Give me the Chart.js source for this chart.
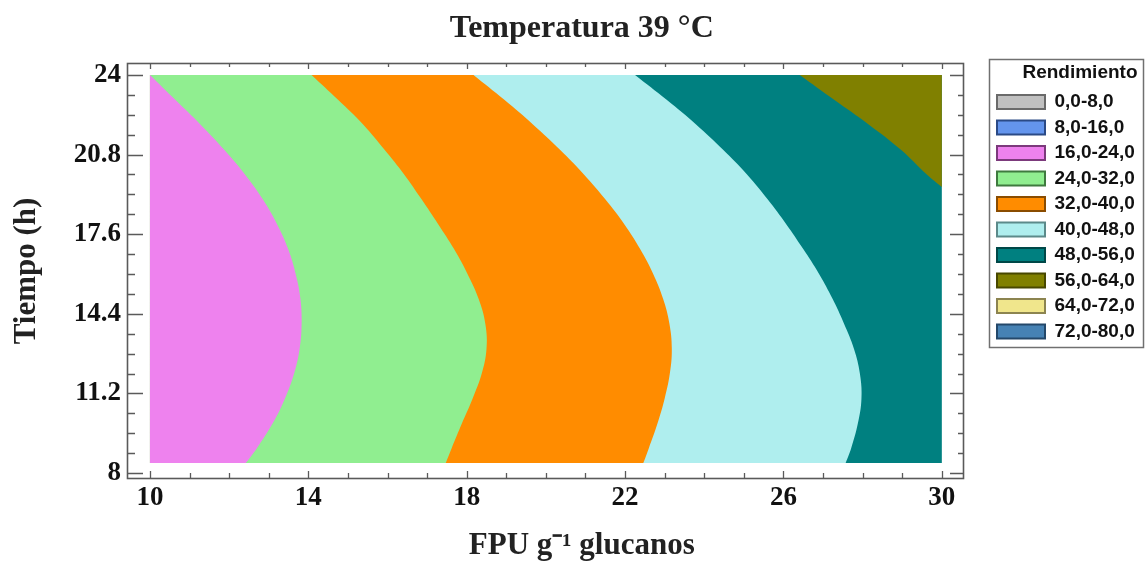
<!DOCTYPE html>
<html>
<head>
<meta charset="utf-8">
<script src="https://cdn.jsdelivr.net/npm/chart.js@4.4.0/dist/chart.umd.min.js"></script>
<style>
  html, body { margin: 0; padding: 0; background: #ffffff; }
  canvas { display: block; }
</style>
</head>
<body>
<canvas id="c" width="1148" height="563"></canvas>
<script>
// ---------- data ----------
// Time (h) at which each contour boundary was read
const TIME_H = [8.4, 9, 10, 11, 12, 13, 14, 15, 16, 17, 18, 19, 20, 21, 22, 23, 24];
// FPU position of each contour boundary (yield level) at those times
const FPU_24 = [12.42, 12.70, 13.10, 13.41, 13.64, 13.78, 13.83, 13.80, 13.68, 13.49, 13.21, 12.85, 12.40, 11.87, 11.28, 10.64, 10.00];
const FPU_32 = [17.47, 17.62, 17.88, 18.15, 18.38, 18.50, 18.47, 18.30, 18.02, 17.68, 17.28, 16.86, 16.42, 15.92, 15.39, 14.75, 14.08];
const FPU_40 = [22.46, 22.60, 22.82, 23.00, 23.13, 23.18, 23.12, 22.96, 22.71, 22.38, 21.98, 21.50, 20.96, 20.35, 19.68, 18.95, 18.17];
const FPU_48 = [27.57, 27.71, 27.88, 27.97, 27.93, 27.78, 27.53, 27.24, 26.90, 26.50, 26.07, 25.60, 25.08, 24.47, 23.80, 23.05, 22.25];
// the 56 boundary only crosses the upper right corner
const TIME_56 = [19.5, 20, 21, 22, 23, 24];
const FPU_56 = [30.00, 29.62, 28.96, 28.16, 27.28, 26.41];

// domain of the response surface
const FPU_RANGE = [10, 30];
const TIME_RANGE = [8.4, 24];

// axes
const X_TICKS = [10, 14, 18, 22, 26, 30];
const X_MINOR_STEP = 1;
const Y_TICKS = [8, 11.2, 14.4, 17.6, 20.8, 24];
const Y_TICK_LABELS = ['8', '11.2', '14.4', '17.6', '20.8', '24'];
const Y_MINOR_STEP = 0.8;

// legend
const LEGEND_LABELS = ['0,0-8,0', '8,0-16,0', '16,0-24,0', '24,0-32,0', '32,0-40,0',
                       '40,0-48,0', '48,0-56,0', '56,0-64,0', '64,0-72,0', '72,0-80,0'];
const LEGEND_FILL = ['#c0c0c0', '#6495ed', '#ee82ee', '#90ee90', '#ff8c00',
                     '#afeeee', '#008080', '#808000', '#f0e68c', '#4682b4'];
const LEGEND_EDGE = ['#6a6a6a', '#2b4a86', '#7c3a7c', '#3f7a3f', '#8a4c00',
                     '#5c8a8a', '#004848', '#484800', '#8c8450', '#24486a'];

// ---------- styling / layout ----------
const SERIF = '"Liberation Serif", "Times New Roman", serif';
const SANS = '"Liberation Sans", Arial, sans-serif';
const LEGEND_GAP = 26.5;
const LEGEND_W = 147;

const pts = (xs, ts) => ts.map((t, i) => ({ x: xs[i], y: t }));

function region(label, xs, ts, color, edge, order) {
  return {
    label,
    data: pts(xs, ts),
    backgroundColor: LEGEND_FILL[color],
    borderWidth: 0,
    pointRadius: 0,
    pointHoverRadius: 0,
    tension: 0.4,
    fill: { value: edge },
    order
  };
}

const datasets = [
  region('16,0-24,0', FPU_24, TIME_H, 2, FPU_RANGE[0], 0),
  region('24,0-32,0', FPU_32, TIME_H, 3, FPU_RANGE[0], 1),
  region('32,0-40,0', FPU_40, TIME_H, 4, FPU_RANGE[0], 2),
  region('40,0-48,0', FPU_48, TIME_H, 5, FPU_RANGE[0], 3),
  region('56,0-64,0', FPU_56, TIME_56, 7, FPU_RANGE[1], 4),
  region('48,0-56,0', [FPU_RANGE[1], FPU_RANGE[1]], TIME_RANGE, 6, FPU_RANGE[0], 5)
];

const legendSizer = {
  id: 'legendSizer',
  beforeLayout(chart) {
    const lg = chart.legend;
    if (lg && !lg._sized) {
      const fit = lg.fit;
      lg.fit = function () { fit.call(this); this.width = LEGEND_W; };
      lg._sized = true;
    }
  }
};

const framePlugin = {
  id: 'frame',
  afterDraw(chart) {
    const { ctx, chartArea: a, scales: { x, y } } = chart;
    ctx.save();
    ctx.strokeStyle = '#5a5a5a';
    ctx.lineWidth = 1.6;
    ctx.strokeRect(a.left + 0.5, a.top + 0.5, a.right - a.left - 1, a.bottom - a.top - 1);
    ctx.lineWidth = 1.3;
    ctx.beginPath();
    const nx = Math.round((X_TICKS[X_TICKS.length - 1] - X_TICKS[0]) / X_MINOR_STEP);
    for (let i = 0; i <= nx; i++) {
      const v = X_TICKS[0] + i * X_MINOR_STEP;
      const major = X_TICKS.some(t => Math.abs(t - v) < 1e-6);
      const px = Math.round(x.getPixelForValue(v)) + 0.5;
      ctx.moveTo(px, a.bottom); ctx.lineTo(px, a.bottom - (major ? 8 : 6));
      ctx.moveTo(px, a.top); ctx.lineTo(px, a.top + (major ? 6 : 4));
    }
    const ny = Math.round((Y_TICKS[Y_TICKS.length - 1] - Y_TICKS[0]) / Y_MINOR_STEP);
    for (let i = 0; i <= ny; i++) {
      const v = Y_TICKS[0] + i * Y_MINOR_STEP;
      const major = Y_TICKS.some(t => Math.abs(t - v) < 1e-6);
      const py = Math.round(y.getPixelForValue(v)) + 0.5;
      ctx.moveTo(a.left, py); ctx.lineTo(a.left + (major ? 16 : 8), py);
      ctx.moveTo(a.right, py); ctx.lineTo(a.right - (major ? 14 : 6), py);
    }
    ctx.stroke();

    // legend frame
    const lg = chart.legend;
    if (lg && lg.legendHitBoxes && lg.legendHitBoxes.length) {
      const last = lg.legendHitBoxes[lg.legendHitBoxes.length - 1];
      const l = lg.left - 1.5, t = lg.top - 4;
      const r = lg.right + 5.5, b = last.top + last.height + 6;
      ctx.strokeStyle = '#707070';
      ctx.lineWidth = 1.5;
      ctx.strokeRect(Math.round(l) + 0.5, Math.round(t) + 0.5, Math.round(r - l), Math.round(b - t));
    }
    ctx.restore();
  }
};

new Chart(document.getElementById('c'), {
  type: 'line',
  data: { datasets },
  plugins: [legendSizer, framePlugin],
  options: {
    indexAxis: 'y',
    responsive: false,
    animation: false,
    devicePixelRatio: 1,
    events: [],
    layout: { padding: { left: 26, right: 10.5, top: 0, bottom: 0 } },
    plugins: {
      tooltip: { enabled: false },
      title: {
        display: true,
        text: 'Temperatura 39 °C',
        color: '#222',
        font: { family: SERIF, size: 32, weight: 'bold', lineHeight: 1.2 },
        padding: { top: 10, bottom: 14.6 }
      },
      subtitle: {
        display: true,
        position: 'bottom',
        text: 'FPU g⁻¹ glucanos',
        color: '#222',
        font: { family: SERIF, size: 31, weight: 'bold', lineHeight: 1.1 },
        padding: { top: 0, bottom: 0 }
      },
      legend: {
        display: true,
        position: 'right',
        align: 'start',
        fullSize: false,
        onClick: null,
        title: {
          display: true,
          text: 'Rendimiento',
          position: 'end',
          color: '#111',
          font: { family: SANS, size: 19, weight: 'bold', lineHeight: 1 },
          padding: { top: 0.5, bottom: 3.5 }
        },
        labels: {
          boxWidth: 48,
          boxHeight: 14,
          padding: 6.5,
          color: '#111',
          font: { family: SANS, size: 19, weight: 'bold' },
          generateLabels: () => LEGEND_LABELS.map((text, i) => ({
            text,
            fillStyle: LEGEND_FILL[i],
            strokeStyle: LEGEND_EDGE[i],
            lineWidth: 2,
            hidden: false,
            index: i
          }))
        }
      }
    },
    scales: {
      x: {
        type: 'linear',
        position: 'bottom',
        min: 9.42,
        max: 30.56,
        afterBuildTicks: s => { s.ticks = X_TICKS.map(v => ({ value: v })); },
        afterFit: s => { s.height = 49.9; },
        grid: { display: false, drawTicks: false },
        border: { display: false },
        ticks: {
          autoSkip: false, maxRotation: 0, padding: 3, color: '#111',
          font: { family: SERIF, size: 27, weight: 'bold' },
          callback: v => String(v)
        }
      },
      y: {
        type: 'linear',
        position: 'left',
        min: 7.76,
        max: 24.48,
        afterBuildTicks: s => { s.ticks = Y_TICKS.map(v => ({ value: v })); },
        afterFit: s => { s.width = 101; },
        grid: { display: false, drawTicks: false },
        border: { display: false },
        ticks: {
          autoSkip: false, padding: 6, color: '#111',
          font: { family: SERIF, size: 27, weight: 'bold' },
          callback: (v, i) => Y_TICK_LABELS[i]
        },
        title: {
          display: true,
          text: 'Tiempo (h)',
          color: '#222',
          font: { family: SERIF, size: 31, weight: 'bold', lineHeight: 0.01 },
          padding: { top: 1, bottom: 0 }
        }
      },
      y2: {
        type: 'linear',
        position: 'right',
        display: true,
        grid: { display: false, drawTicks: false },
        border: { display: false },
        ticks: { display: false },
        afterFit: s => { s.width = LEGEND_GAP; }
      }
    }
  }
});
</script>
</body>
</html>
